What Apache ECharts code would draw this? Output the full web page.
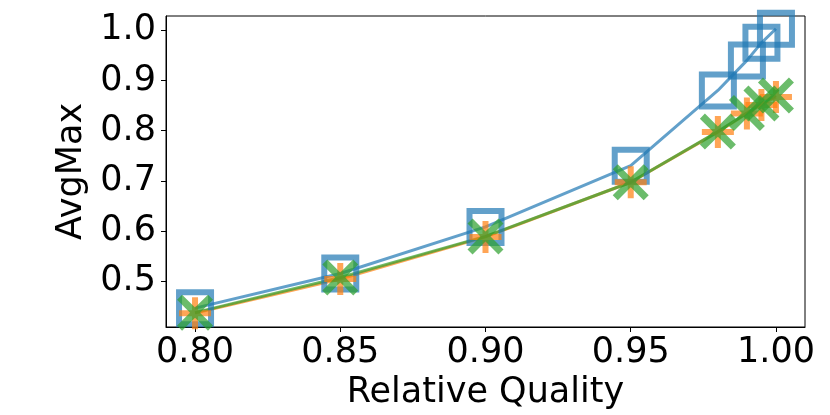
<!DOCTYPE html>
<html>
<head>
<meta charset="utf-8">
<script src="https://cdn.jsdelivr.net/npm/echarts@6/dist/echarts.min.js"></script>
<style>html,body{margin:0;padding:0;background:#fff;}#c{width:830px;height:415px;}</style>
</head>
<body>
<div id="c"></div>
<script>
var xValues = [0.80, 0.85, 0.90, 0.95, 0.98, 0.99, 0.995, 1.00];
var blueValues = [0.446, 0.515, 0.608, 0.730, 0.880, 0.940, 0.975, 1.003];
var orangeValues = [0.436, 0.504, 0.588, 0.697, 0.797, 0.834, 0.851, 0.867];
var greenValues = [0.437, 0.507, 0.589, 0.697, 0.798, 0.835, 0.854, 0.870];
var xTicks = [0.80, 0.85, 0.90, 0.95, 1.00];
var yTicks = [0.5, 0.6, 0.7, 0.8, 0.9, 1.0];

function pairs(ys) { return xValues.map(function (x, i) { return [x, ys[i]]; }); }

var plusPath = 'path://M13,0 L19,0 L19,13 L32,13 L32,19 L19,19 L19,32 L13,32 L13,19 L0,19 L0,13 L13,13 Z';
var d = 14;
var xPath = 'path://M0,' + d + ' L' + d + ',0 L50,' + (50 - d) + ' L' + (100 - d) + ',0 L100,' + d +
  ' L' + (50 + d) + ',50 L100,' + (100 - d) + ' L' + (100 - d) + ',100 L50,' + (50 + d) +
  ' L' + d + ',100 L0,' + (100 - d) + ' L' + (50 - d) + ',50 Z';

var font = 'DejaVu Sans';
var chart = echarts.init(document.getElementById('c'), null, { renderer: 'canvas' });
chart.setOption({
  animation: false,
  grid: { left: 166, right: 25, top: 16, bottom: 88, show: true, borderColor: '#000', borderWidth: 1,
    backgroundColor: 'transparent', containLabel: false, outerBoundsMode: 'none' },
  xAxis: {
    type: 'value', min: 0.79, max: 1.01,
    name: 'Relative Quality', nameLocation: 'middle', nameGap: 48,
    nameTextStyle: { fontFamily: font, fontSize: 35, color: '#000' },
    axisLine: { show: true, onZero: false, lineStyle: { color: '#000', width: 1 } },
    axisTick: { show: true, length: 5, lineStyle: { color: '#000' }, customValues: xTicks },
    axisLabel: { fontFamily: font, fontSize: 35, color: '#000', margin: 8, customValues: xTicks,
      formatter: function (v) { return v.toFixed(2); } },
    splitLine: { show: false }
  },
  yAxis: {
    type: 'value', min: 0.4084, max: 1.0285,
    name: 'AvgMax', nameLocation: 'middle', nameGap: 73, nameRotate: 90,
    nameTextStyle: { fontFamily: font, fontSize: 35, color: '#000' },
    axisLine: { show: true, onZero: false, lineStyle: { color: '#000', width: 1 } },
    axisTick: { show: true, length: 5, lineStyle: { color: '#000' }, customValues: yTicks },
    axisLabel: { fontFamily: font, fontSize: 35, color: '#000', margin: 10, customValues: yTicks,
      formatter: function (v) { return v.toFixed(1); } },
    splitLine: { show: false }
  },
  series: [
    {
      type: 'line', data: pairs(blueValues), symbol: 'rect', symbolSize: 32,
      lineStyle: { color: '#1f77b4', width: 3, opacity: 0.7 },
      itemStyle: { color: 'rgba(0,0,0,0)', borderColor: 'rgba(31,119,180,0.7)', borderWidth: 6 },
      showAllSymbol: true, clip: false
    },
    {
      type: 'line', data: pairs(orangeValues), symbol: plusPath, symbolSize: 32,
      lineStyle: { color: '#ff7f0e', width: 3, opacity: 0.7 },
      itemStyle: { color: '#ff7f0e', opacity: 0.7 },
      showAllSymbol: true, clip: false
    },
    {
      type: 'line', data: pairs(greenValues), symbol: xPath, symbolSize: 36,
      lineStyle: { color: '#2ca02c', width: 3, opacity: 0.7 },
      itemStyle: { color: '#2ca02c', opacity: 0.7 },
      showAllSymbol: true, clip: false
    }
  ]
});
</script>
</body>
</html>
